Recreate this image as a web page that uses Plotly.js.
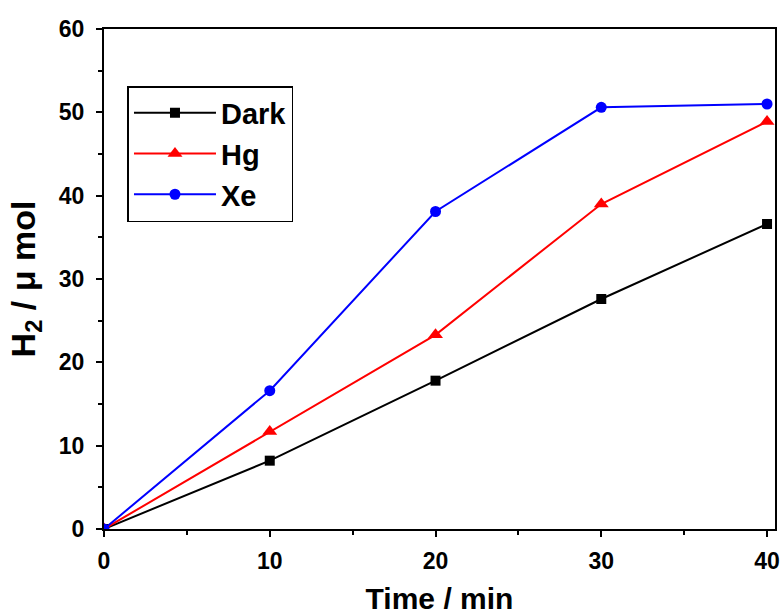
<!DOCTYPE html>
<html><head><meta charset="utf-8">
<script src="https://cdn.plot.ly/plotly-3.0.1.min.js"></script>
<style>body{margin:0;padding:0;background:#fff}#chart{width:783px;height:615px}</style>
</head><body><div id="chart"></div>
<script>
const time = [0, 10, 20, 30, 40];
const dark = [0, 8.2, 17.8, 27.6, 36.6];
const hg = [0, 11.7, 23.3, 39.0, 48.9];
const xe = [0, 16.6, 38.1, 50.6, 51.0];
const names = ['Dark', 'Hg', 'Xe'];
const colors = ['#000000', '#ff0000', '#0000ff'];
const symbols = ['square', 'triangle-up', 'circle'];
const sizes = [10, 13, 11];
const series = [dark, hg, xe];

const traces = series.map((ys, i) => ({
  x: time, y: ys, name: names[i], type: 'scatter', mode: 'lines+markers',
  line: {color: colors[i], width: 2},
  marker: {symbol: symbols[i], size: sizes[i], color: colors[i]}
}));

const font = 'Arial, "Liberation Sans", sans-serif';
const layout = {
  width: 783, height: 615,
  margin: {l: 104, r: 8, t: 29, b: 86},
  paper_bgcolor: '#fff', plot_bgcolor: '#fff',
  showlegend: true,
  legend: {
    x: 0.035, y: 0.886, xanchor: 'left', yanchor: 'top',
    bordercolor: '#000', borderwidth: 1.5, bgcolor: '#fff',
    font: {family: font, size: 29, color: '#000', weight: 'bold'},
    itemwidth: 82, tracegroupgap: 0
  },
  xaxis: {
    range: [0, 40.48], tickvals: [0, 10, 20, 30, 40],
    ticks: 'outside', ticklen: 6, tickwidth: 1.5, tickcolor: '#000',
    minor: {tickvals: [5, 15, 25, 35], ticks: 'outside', ticklen: 4, tickwidth: 1.5, tickcolor: '#000'},
    showline: true, linecolor: '#000', linewidth: 2, mirror: true,
    showgrid: false, zeroline: false, ticklabelstandoff: 4,
    tickfont: {family: font, size: 23, color: '#000', weight: 'bold'},
    title: {text: 'Time / min', font: {family: font, size: 30, color: '#000', weight: 'bold'}, standoff: 16}
  },
  yaxis: {
    range: [0, 60], tickvals: [0, 10, 20, 30, 40, 50, 60],
    ticks: 'outside', ticklen: 6, tickwidth: 1.5, tickcolor: '#000',
    minor: {tickvals: [5, 15, 25, 35, 45, 55], ticks: 'outside', ticklen: 4, tickwidth: 1.5, tickcolor: '#000'},
    showline: true, linecolor: '#000', linewidth: 2, mirror: true,
    showgrid: false, zeroline: false, ticklabelstandoff: 7,
    tickfont: {family: font, size: 23, color: '#000', weight: 'bold'},
    title: {text: 'H<sub>2</sub> / μ mol', font: {family: font, size: 34, color: '#000', weight: 'bold'}, standoff: 13}
  }
};
Plotly.newPlot('chart', traces, layout, {displayModeBar: false});
</script></body></html>
